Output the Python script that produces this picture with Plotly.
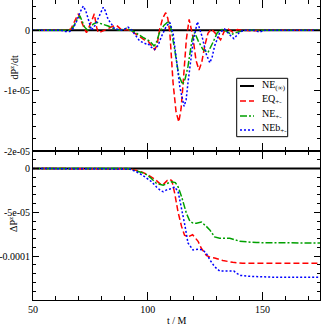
import plotly.graph_objects as go

# dP^z/dt (units of 1e-6)
t_eq_rate = [50, 65, 66.5, 67.5, 69.7, 71.9, 73.3, 75.5, 76.7, 77.7, 78.4, 80, 82, 84.5, 86.4, 88.7, 91, 93,
             95.8, 98.5, 100.1, 102.3, 103, 104, 105.2, 106.5, 107.8, 108.7, 109.6, 111, 112.3, 113.5, 114.5,
             115.4, 116.8, 118, 119.6, 121, 122.3, 123.5, 124.8, 126.2, 127.7, 129.9, 131.7, 133.5, 135, 137,
             139, 141, 145, 150, 175]
eq_rate = [0, 0, 0.2, 1.0, 2.7, 0.7, -0.4, 1.5, 2.7, 0.5, -0.4, -0.2, 0.2, 0.6, 0.8, 0, 0.1, -0.2,
           -0.9, -1.6, -1.8, -2.9, -3.2, -2.5, 0.2, 2.0, 2.9, 2.0, -0.4, -8.7, -13.5, -15.2, -13,
           -8.7, -1.5, 1.8, -1.0, -5.0, -6.6, -5.3, -2.6, -0.5, 0.2, -0.7, -1.6, 0, 0.2, -0.3,
           0.1, 0, -0.1, 0, 0]

t_ne_rate = [50, 66, 67.5, 68.8, 70.4, 71.5, 72.5, 73.8, 75, 76.2, 77.8, 79.5, 81, 82.7, 85.6, 87.8, 90.7,
             92.5, 94.3, 97.9, 100.8, 102.7, 103.5, 105, 107, 109.1, 110, 111.7, 113.5, 115.2, 116.3, 117.5,
             119.3, 120.4, 122, 124, 126.2, 128.4, 130.3, 132.7, 134.5, 136.4, 140, 143, 175]
ne_rate = [0, 0, 0.5, 1.5, 2.4, 1.5, 0.5, 0, 0.5, 1.0, 1.3, 1.1, 1.0, 0.7, 0.2, 0, 0.3,
           0, -0.3, -1.2, -1.8, -2.6, -2.3, -0.5, 0.8, 1.5, 0.5, -3.2, -7.5, -9.0, -8.0, -6.0,
           -1.5, -0.4, -1.8, -3.2, -3.7, -2.0, -0.4, 0.2, -0.3, -0.7, -0.2, 0, 0]

t_neb_rate = [50, 62, 64, 66, 67.5, 69, 70.5, 71.9, 73, 74, 75.5, 77, 79.1, 80.6, 81.5, 82.7, 84.2, 85.6,
              89, 91.4, 93, 94.3, 96.5, 99.4, 100.1, 101.5, 103, 104.5, 106, 108, 109.6, 111, 112.5, 114,
              115.8, 116.7, 117.5, 119.7, 121.6, 123.6, 125.5, 127, 128, 129.1, 131.3, 133.5, 135.5, 137.5,
              140, 142, 146, 148.7, 151, 175]
neb_rate = [0, 0, -0.2, -0.2, 0.3, 1.5, 3.0, 4.0, 3.2, 1.8, 0, 0.8, 2.4, 3.8, 3.2, 1.8, 1.0, 0.2,
            0, 0.5, 0, -0.7, -1.8, -2.3, -2.2, -2.8, -3.2, -2.5, -1.0, 0.6, 1.3, -0.5, -4.8, -9.5,
            -12.6, -11.5, -8.7, -2.0, 1.4, -1.0, -4.0, -5.4, -4.5, -2.6, -0.4, 0.2, -0.7, -1.4,
            -0.3, 0, 0, -0.3, 0, 0]

# Delta P^z (units of 1e-6)
t_eq_dp = [50, 90, 92, 94, 97.3, 99.5, 101.6, 103, 104.5, 106, 107, 108.5, 109.6, 110.5, 111.7, 113.2,
           114.7, 116, 117.5, 119.5, 121.9, 123.3, 125.5, 127, 129.1, 132.7, 137, 141.3, 150, 175]
eq_dp = [0, 0, -0.3, -1.5, -3.8, -6.5, -9.5, -12, -15.5, -19, -17.5, -13.5, -12.2, -14, -28, -50,
         -66, -76, -78, -75.5, -83, -91, -99, -101, -102, -105, -107, -108, -108, -108]

t_ne_dp = [50, 91, 93, 95.5, 98.7, 101, 103.8, 106.7, 108.5, 110.3, 112, 113.2, 114.7, 116.8, 118.3,
           119.5, 121.2, 123.3, 125.5, 127, 129.1, 131.3, 135.7, 138, 140, 147.3, 160, 175]
ne_dp = [0, 0, -1, -3, -5.7, -10, -17, -19, -17, -15, -16, -21, -32, -51, -60,
         -62, -62.5, -61, -66, -70, -78, -79.5, -79.5, -81, -83, -84.5, -85, -85]

t_neb_dp = [50, 90, 92, 94, 96.5, 99, 101.6, 103.8, 105.5, 106.7, 108.5, 110.3, 111.7, 113.2, 114.7,
            116.1, 117.5, 119.7, 122, 124, 125.5, 127, 129.1, 131.3, 135, 137.5, 139, 140.5, 144.3, 155, 175]
neb_dp = [0, 0, -0.5, -2.5, -5.7, -10, -15, -21, -25, -26.5, -24, -23, -21, -26.5, -45,
          -64, -85, -93, -92, -93, -97, -104, -112, -117, -117, -117, -120, -122, -123, -124, -124]

t_ref = [50, 175]
ref_vals = [0, 0]

series_names = ["NE<sub>(∞)</sub>", "EQ<sub>+-</sub>", "NE<sub>+-</sub>", "NEb<sub>+-</sub>"]

E = 1e-6
FONT = "Liberation Serif"
# plot area: 33..320 px wide, 0..300 px tall
PX = lambda x: (x - 33) / 287
PY = lambda y: 1 - y / 300

styles = [("black", "solid", 2), ("red", "6px,3px", 1.5), ("#00a000", "7px,2px,2px,2px", 1.5),
          ("blue", "2px,2px", 1.5)]

fig = go.Figure()

def add(x, y, i, yaxis):
    color, dash, width = styles[i]
    fig.add_trace(go.Scatter(x=x, y=[v * E for v in y], mode="lines", name=series_names[i],
                             line=dict(color=color, dash=dash, width=width),
                             xaxis="x" if yaxis == "y" else "x2", yaxis=yaxis,
                             showlegend=False, hoverinfo="skip"))

add(t_ref, ref_vals, 0, "y")
add(t_ref, ref_vals, 0, "y2")
add(t_eq_rate, eq_rate, 1, "y")
add(t_ne_rate, ne_rate, 2, "y")
add(t_neb_rate, neb_rate, 3, "y")
add(t_eq_dp, eq_dp, 1, "y2")
add(t_ne_dp, ne_dp, 2, "y2")
add(t_neb_dp, neb_dp, 3, "y2")

axis_common = dict(showline=True, linecolor="black", linewidth=1, mirror="ticks", ticks="inside",
                   tickcolor="black", showgrid=False, zeroline=False, automargin=False,
                   tickfont=dict(family=FONT, size=10, color="black"))

top_dom = [PY(151), 1]
bot_dom = [0, PY(151)]

# hand-drawn legend box
shapes = [dict(type="rect", xref="paper", yref="paper", x0=PX(236.7), x1=PX(287.7), y0=PY(136.7),
               y1=PY(78.3), fillcolor="white", line=dict(color="black", width=1))]
annotations = []
rows = [86, 101, 116, 130]
for i, row in enumerate(rows):
    color, dash, width = styles[i]
    shapes.append(dict(type="line", xref="paper", yref="paper", x0=PX(240), x1=PX(254),
                       y0=PY(row), y1=PY(row), line=dict(color=color, dash=dash, width=width)))
    annotations.append(dict(text=series_names[i], x=PX(260), y=PY(row - 1), xref="paper", yref="paper",
                            xanchor="left", yanchor="middle", showarrow=False,
                            font=dict(family=FONT, size=10)))

annotations += [
    dict(text="t / M", x=0.5, y=0, xref="paper", yref="paper", xanchor="center", yanchor="middle",
         yshift=-20, showarrow=False, font=dict(family=FONT, size=10)),
    dict(text="dP<sup>z</sup>/dt", x=PX(13), y=PY(67.5), xref="paper", yref="paper",
         xanchor="center", yanchor="middle", textangle=-90, showarrow=False, font=dict(family=FONT, size=10)),
    dict(text="ΔP<sup>z</sup>", x=PX(13), y=PY(225), xref="paper", yref="paper",
         xanchor="center", yanchor="middle", textangle=-90, showarrow=False, font=dict(family=FONT, size=10)),
]

fig.update_layout(
    width=323, height=325,
    margin=dict(l=33, r=3, t=0, b=25),
    paper_bgcolor="white", plot_bgcolor="white",
    font=dict(family=FONT, size=10, color="black"),
    showlegend=False,
    xaxis=dict(domain=[0, 1], anchor="y", range=[50, 175], tickvals=[50, 100, 150], showticklabels=False,
               ticklen=8, minor=dict(dtick=10, tick0=50, ticklen=4, ticks="inside", tickcolor="black"),
               **axis_common),
    xaxis2=dict(domain=[0, 1], anchor="y2", range=[50, 175], tickvals=[50, 100, 150],
                ticktext=["50", "100", "150"], ticklen=8,
                minor=dict(dtick=10, tick0=50, ticklen=4, ticks="inside", tickcolor="black"),
                **axis_common),
    yaxis=dict(domain=top_dom, anchor="x", range=[-2e-5, 5e-6], tickvals=[0, -1e-5, -2e-5],
               ticktext=["0", "-1e-05", "-2e-05"], ticklen=6,
               minor=dict(dtick=2e-6, tick0=0, ticklen=3, ticks="inside", tickcolor="black"),
               **axis_common),
    yaxis2=dict(domain=bot_dom, anchor="x2", range=[-1.5e-4, 2e-5], tickvals=[0, -5e-5, -1e-4],
                ticktext=["0", "-5e-05", "-0.0001"], ticklen=6,
                minor=dict(dtick=1e-5, tick0=0, ticklen=3, ticks="inside", tickcolor="black"),
                **axis_common),
    shapes=shapes,
    annotations=annotations,
)

fig.write_html("out.html", config={"displayModeBar": False},
               post_script="document.body.style.margin='0';")
